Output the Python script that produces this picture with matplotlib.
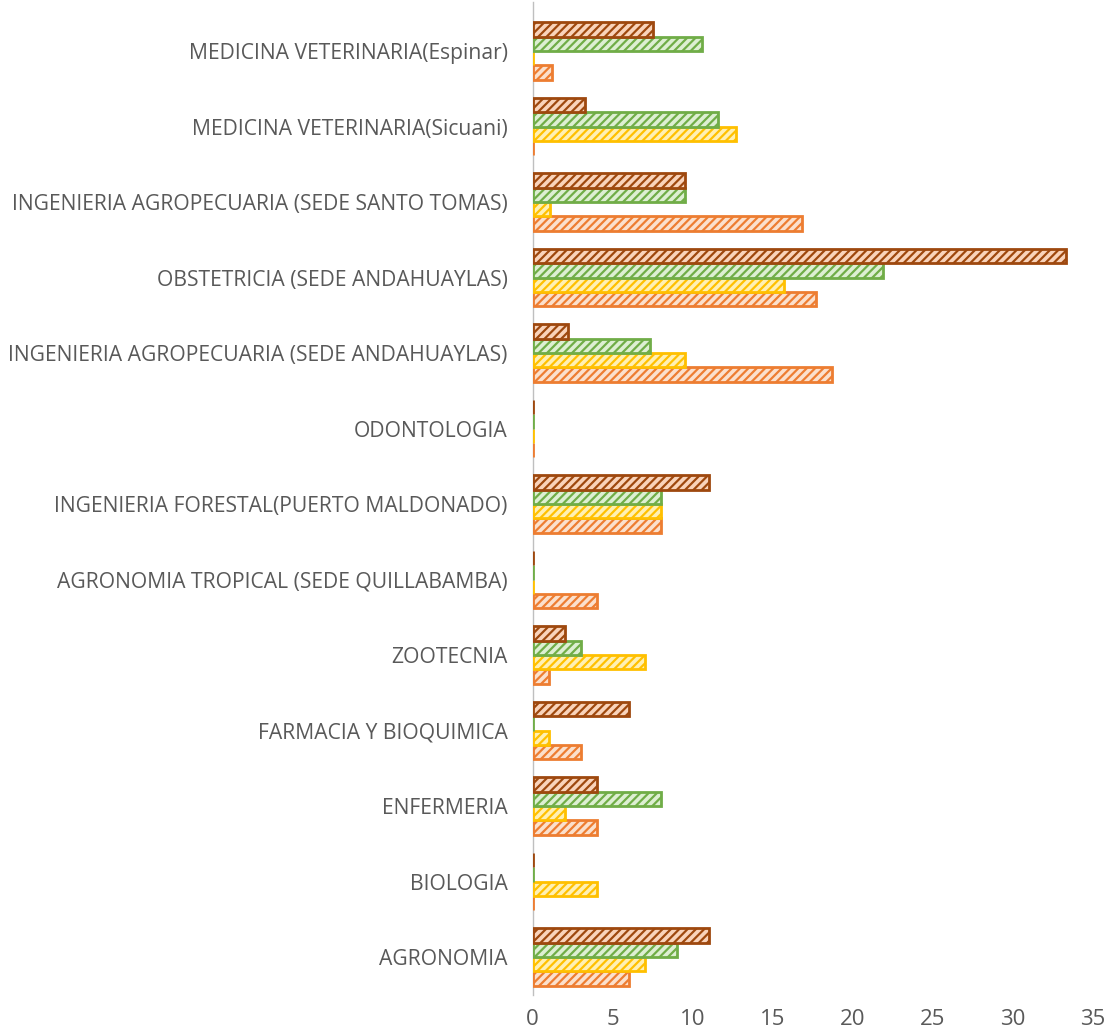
import matplotlib
matplotlib.use("Agg")
import matplotlib.pyplot as plt
import numpy as np

plt.rcParams['font.family'] = ['Open Sans', 'DejaVu Sans']
plt.rcParams['hatch.linewidth'] = 1.6

categories = [
    "AGRONOMIA",
    "BIOLOGIA",
    "ENFERMERIA",
    "FARMACIA Y BIOQUIMICA",
    "ZOOTECNIA",
    "AGRONOMIA TROPICAL (SEDE QUILLABAMBA)",
    "INGENIERIA FORESTAL(PUERTO MALDONADO)",
    "ODONTOLOGIA",
    "INGENIERIA AGROPECUARIA (SEDE ANDAHUAYLAS)",
    "OBSTETRICIA (SEDE ANDAHUAYLAS)",
    "INGENIERIA AGROPECUARIA (SEDE SANTO TOMAS)",
    "MEDICINA VETERINARIA(Sicuani)",
    "MEDICINA VETERINARIA(Espinar)",
]

serie_orange = [6, 0, 4, 3, 1, 4, 8, 0, 18.7, 17.7, 16.8, 0, 1.2]
serie_yellow = [7, 4, 2, 1, 7, 0, 8, 0, 9.5, 15.7, 1.1, 12.7, 0]
serie_green = [9, 0, 8, 0, 3, 0, 8, 0, 7.3, 21.9, 9.5, 11.6, 10.6]
serie_brown = [11, 0, 4, 6, 2, 0, 11, 0, 2.2, 33.3, 9.5, 3.3, 7.5]

xticks = [0, 5, 10, 15, 20, 25, 30, 35]

series = [serie_orange, serie_yellow, serie_green, serie_brown]
edges = ["#ED7D31", "#FFC000", "#70AD47", "#9E480E"]
fills = ["#FBE0CC", "#FFF0B3", "#DDEFD2", "#F9D3BA"]

fig = plt.figure(figsize=(11.12, 10.32), dpi=100)
ax = fig.add_axes([0.479, 0.036, 0.504, 0.962])

y = np.arange(len(categories))
h = 0.19
offsets = [-1.5 * h, -0.5 * h, 0.5 * h, 1.5 * h]
for vals, ec, fc, off in zip(series, edges, fills, offsets):
    ax.barh(y + off, vals, height=h, facecolor=fc, edgecolor=ec,
            linewidth=2, hatch='////', zorder=3)

ax.set_xlim(0, 35)
ax.set_ylim(-0.5, 12.65)
ax.set_xticks(xticks)
ax.set_xticklabels([str(t) for t in xticks])
ax.set_yticks(y)
ax.set_yticklabels(categories)
ax.tick_params(axis='y', length=0, pad=18, labelsize=15.2, labelcolor="#595959")
ax.tick_params(axis='x', length=0, pad=10, labelsize=16, labelcolor="#595959")
for s in ['top', 'right', 'bottom']:
    ax.spines[s].set_visible(False)
ax.spines['left'].set_color("#BFBFBF")
ax.spines['left'].set_linewidth(1)
ax.spines['left'].set_zorder(2)

fig.savefig("out.png", dpi=100)
